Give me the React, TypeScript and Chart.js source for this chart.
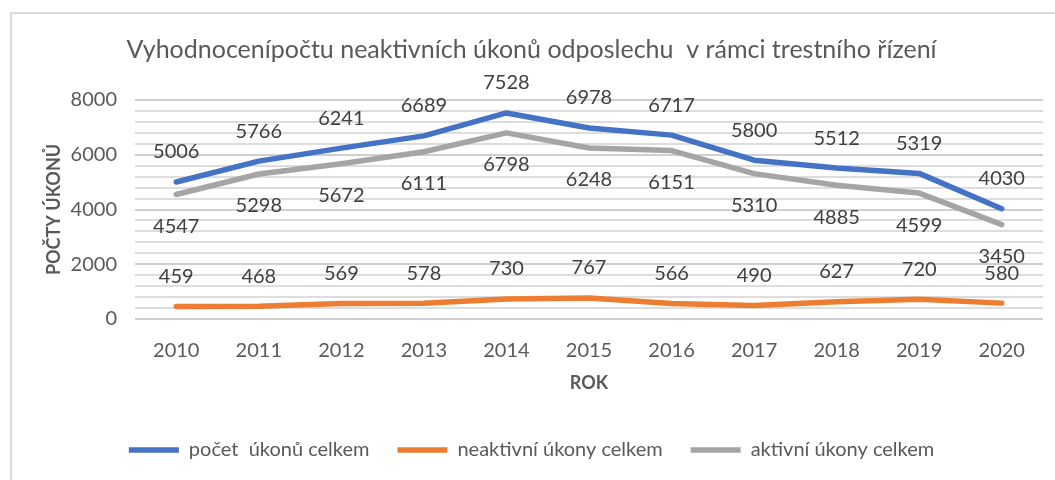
import React, { useEffect, useRef } from "react";
import { Chart, registerables } from "chart.js";

Chart.register(...registerables);

const years = ["2010", "2011", "2012", "2013", "2014", "2015", "2016", "2017", "2018", "2019", "2020"];
const celkem = [5006, 5766, 6241, 6689, 7528, 6978, 6717, 5800, 5512, 5319, 4030];
const neaktivni = [459, 468, 569, 578, 730, 767, 566, 490, 627, 720, 580];
const aktivni = [4547, 5298, 5672, 6111, 6798, 6248, 6151, 5310, 4885, 4599, 3450];

const seriesNames = ["počet  úkonů celkem", "neaktivní úkony celkem", "aktivní úkony celkem"];
const seriesColors = ["#4472C4", "#ED7D31", "#A5A5A5"];
const labelOffsets = [-30, -30, 32];
const minorStep = 400;

const titleText = "Vyhodnocenípočtu neaktivních úkonů odposlechu  v rámci trestního řízení";
const FONT = "Lato, 'Open Sans', sans-serif";
const TXT = "#595959";

const minorGridPlugin = {
  id: "minorGrid",
  beforeDatasetsDraw(chart: any) {
    const y = chart.scales.y;
    const { left, right } = chart.chartArea;
    const ctx = chart.ctx;
    ctx.save();
    ctx.strokeStyle = "#dddddd";
    ctx.lineWidth = 2;
    for (let v = y.min + minorStep; v < y.max; v += minorStep) {
      if (v % 2000 === 0) continue;
      const py = Math.round(y.getPixelForValue(v));
      ctx.beginPath();
      ctx.moveTo(left, py);
      ctx.lineTo(right, py);
      ctx.stroke();
    }
    ctx.restore();
  },
};

const dataLabelPlugin = {
  id: "dataLabels",
  afterDatasetsDraw(chart: any) {
    const ctx = chart.ctx;
    ctx.save();
    ctx.font = `20px ${FONT}`;
    ctx.fillStyle = "#404040";
    ctx.textAlign = "center";
    ctx.textBaseline = "middle";
    chart.data.datasets.forEach((ds: any, i: number) => {
      const meta = chart.getDatasetMeta(i);
      meta.data.forEach((pt: any, j: number) => {
        ctx.fillText(String(ds.data[j]), pt.x, pt.y + labelOffsets[i]);
      });
    });
    ctx.restore();
  },
};

export default function App() {
  const ref = useRef<HTMLCanvasElement | null>(null);
  useEffect(() => {
    if (!ref.current) return;
    const seriesData = [celkem, neaktivni, aktivni];
    const chart = new Chart(ref.current, {
      type: "line",
      data: {
        labels: years,
        datasets: seriesData.map((d, i) => ({
          label: seriesNames[i],
          data: d,
          borderColor: seriesColors[i],
          backgroundColor: seriesColors[i],
          borderWidth: 5.5,
          borderCapStyle: "round",
          borderJoinStyle: "round",
          pointRadius: 0,
          pointStyle: "line",
          tension: 0,
        })),
      },
      options: {
        animation: false,
        responsive: false,
        maintainAspectRatio: false,
        layout: { padding: { left: 20, right: 12, top: 12, bottom: 10 } },
        plugins: {
          title: {
            display: true,
            text: titleText,
            color: TXT,
            font: { family: FONT, size: 25, weight: "normal" },
            padding: { top: 23, bottom: 35 },
          },
          legend: {
            position: "bottom",
            labels: {
              usePointStyle: true,
              pointStyle: "line",
              pointStyleWidth: 50,
              boxWidth: 50,
              boxHeight: 6,
              color: TXT,
              font: { family: FONT, size: 20 },
              padding: 28,
            },
          },
          tooltip: { enabled: false },
        },
        scales: {
          x: {
            offset: true,
            grid: { display: false, drawTicks: false, offset: true },
            border: { display: false },
            ticks: { color: TXT, font: { family: FONT, size: 20 }, padding: 20 },
            title: {
              display: true,
              text: "ROK",
              color: TXT,
              font: { family: FONT, size: 18, weight: "bold" },
              padding: { top: 0, bottom: 18 },
            },
            afterFit: (s: any) => {
              s.height = 93;
            },
          },
          y: {
            min: 0,
            max: 8000,
            border: { display: false },
            grid: {
              drawTicks: false,
              color: "#cfcfcf",
              lineWidth: 2,
            },
            ticks: {
              stepSize: 2000,
              color: TXT,
              font: { family: FONT, size: 20 },
              padding: 18,
              callback: (v: any) => String(v),
            },
            title: {
              display: true,
              text: "POČTY ÚKONŮ",
              color: TXT,
              font: { family: FONT, size: 18, weight: "bold" },
              padding: { top: 23, bottom: 0 },
            },
            afterFit: (s: any) => {
              s.width = 115;
            },
          },
        },
      } as any,
      plugins: [minorGridPlugin, dataLabelPlugin],
    });
    return () => chart.destroy();
  }, []);

  return (
    <div style={{ position: "fixed", left: 0, top: 0, width: 1055, height: 480, background: "#fff", overflow: "hidden" }}>
      <div
        style={{
          position: "absolute",
          left: 10,
          top: 12,
          width: 1100,
          height: 520,
          border: "2px solid #d9d9d9",
          boxSizing: "border-box",
        }}
      />
      <canvas ref={ref} width={1055} height={480} style={{ position: "absolute", left: 0, top: 0, width: 1055, height: 480 }} />
    </div>
  );
}
